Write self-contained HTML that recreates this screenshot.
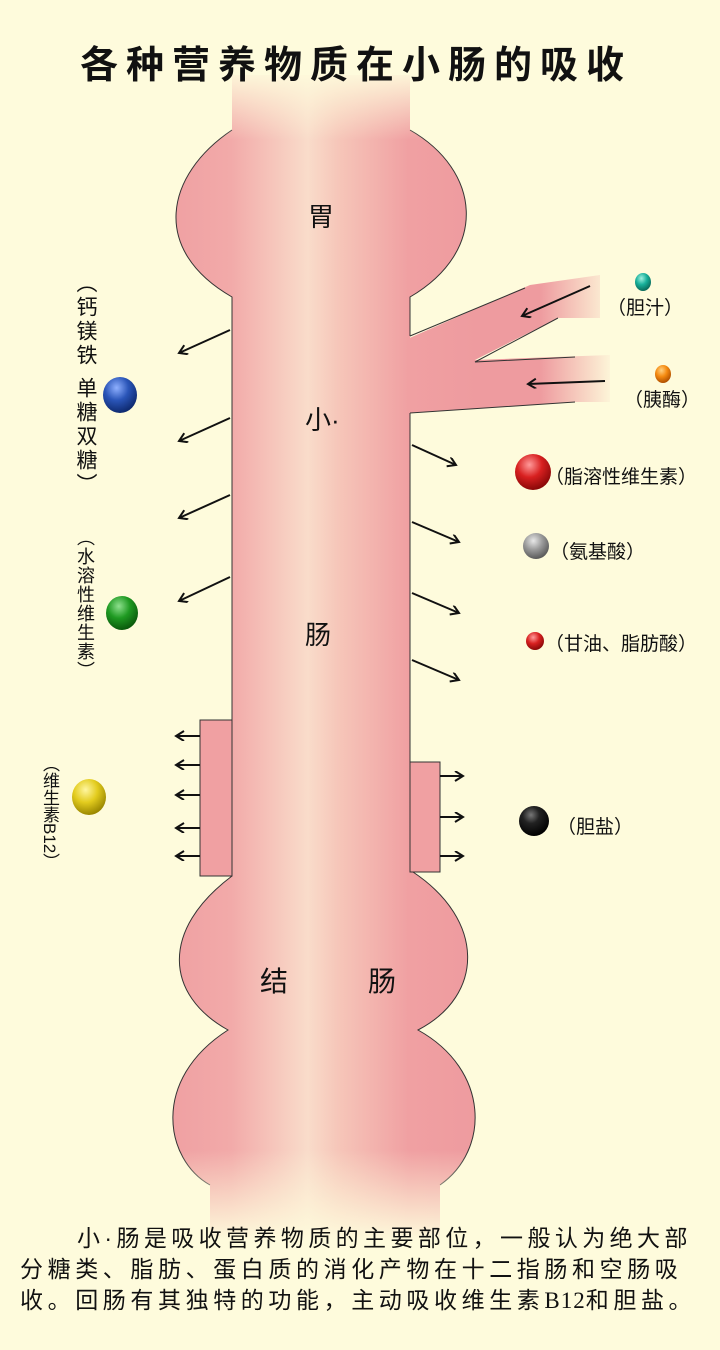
<!DOCTYPE html>
<html><head><meta charset="utf-8"><style>
body{margin:0;background:#fefbdc;}
#w{position:relative;width:720px;height:1350px;overflow:hidden;background:#fefbdc;font-family:"Liberation Sans","Noto Sans CJK SC",sans-serif;color:#111;}
.t{position:absolute;white-space:nowrap;}
.v{position:absolute;writing-mode:vertical-rl;white-space:nowrap;}
</style></head><body><div id="w">
<svg width="720" height="1350" style="position:absolute;left:0;top:0">
<defs>
<linearGradient id="g" gradientUnits="userSpaceOnUse" x1="170" y1="0" x2="476" y2="0">
<stop offset="0" stop-color="#efa0a2"/><stop offset="0.2" stop-color="#f2aaa9"/><stop offset="0.45" stop-color="#f9dcca"/><stop offset="0.55" stop-color="#f6c6b9"/><stop offset="0.78" stop-color="#f0a0a2"/><stop offset="1" stop-color="#ee9b9f"/>
</linearGradient>
<linearGradient id="ft" x1="0" x2="0" y1="0" y2="1"><stop offset="0" stop-color="#fefbdc"/><stop offset="1" stop-color="#fefbdc" stop-opacity="0"/></linearGradient>
<linearGradient id="fb" x1="0" x2="0" y1="0" y2="1"><stop offset="0" stop-color="#fefbdc" stop-opacity="0"/><stop offset="1" stop-color="#fefbdc"/></linearGradient>
<linearGradient id="fr" x1="0" x2="1" y1="0" y2="0"><stop offset="0" stop-color="#fefbdc" stop-opacity="0"/><stop offset="1" stop-color="#fefbdc"/></linearGradient>
<radialGradient id="bb" cx="0.4" cy="0.3" r="0.7"><stop offset="0" stop-color="#8fb0ff"/><stop offset="0.5" stop-color="#2a55b8"/><stop offset="1" stop-color="#0e2a70"/></radialGradient>
<radialGradient id="bg" cx="0.4" cy="0.3" r="0.7"><stop offset="0" stop-color="#8ee08e"/><stop offset="0.5" stop-color="#1f9a22"/><stop offset="1" stop-color="#0a5a0c"/></radialGradient>
<radialGradient id="by" cx="0.4" cy="0.3" r="0.7"><stop offset="0" stop-color="#fff6a0"/><stop offset="0.5" stop-color="#e3cc1e"/><stop offset="1" stop-color="#9a8700"/></radialGradient>
<radialGradient id="bt" cx="0.4" cy="0.3" r="0.7"><stop offset="0" stop-color="#a0f0e0"/><stop offset="0.5" stop-color="#18b09a"/><stop offset="1" stop-color="#0a6a5a"/></radialGradient>
<radialGradient id="bo" cx="0.4" cy="0.3" r="0.7"><stop offset="0" stop-color="#ffd080"/><stop offset="0.5" stop-color="#f58a10"/><stop offset="1" stop-color="#b05000"/></radialGradient>
<radialGradient id="br" cx="0.4" cy="0.3" r="0.7"><stop offset="0" stop-color="#ff9a9a"/><stop offset="0.5" stop-color="#d82020"/><stop offset="1" stop-color="#8a0808"/></radialGradient>
<radialGradient id="bgr" cx="0.4" cy="0.3" r="0.7"><stop offset="0" stop-color="#e8e8e8"/><stop offset="0.5" stop-color="#9a9a9a"/><stop offset="1" stop-color="#5a5a5a"/></radialGradient>
<radialGradient id="bk" cx="0.4" cy="0.3" r="0.7"><stop offset="0" stop-color="#777"/><stop offset="0.4" stop-color="#222"/><stop offset="1" stop-color="#000"/></radialGradient>
<marker id="a" markerWidth="12" markerHeight="12" refX="9" refY="5" orient="auto" markerUnits="userSpaceOnUse"><path d="M1,0 L9,5 L1,10" fill="none" stroke="#111" stroke-width="2"/></marker>
</defs>
<path d="M405,340 L530,285 L600,275 L600,318 L558,318 L475,360 L610,355 L610,402 L575,402 L405,413 Z" fill="url(#g)"/>
<rect x="540" y="270" width="75" height="140" fill="url(#fr)"/>
<path d="M410,336 L525,288 M558,318 L475,362 L575,357 M575,402 L410,413" fill="none" stroke="#333" stroke-width="1"/>
<path d="M232,75 L232,130 C165,175 150,250 232,297 L232,720 L200,720 L200,876 L232,876 C160,930 165,995 228,1030 C150,1080 165,1160 210,1185 L210,1240 L440,1240 L440,1185 C490,1150 490,1070 418,1030 C485,995 485,920 413,872 L440,872 L440,762 L410,762 L410,297 C490,250 480,170 410,130 L410,75 Z" fill="url(#g)"/>
<rect x="200" y="720" width="32" height="156" fill="#f0a0a2"/>
<rect x="410" y="762" width="30" height="110" fill="#f0a0a2"/>
<path d="M232,720 L200,720 L200,876 L232,876 L232,720 M410,762 L440,762 L440,872 L410,872 L410,762" fill="none" stroke="#333" stroke-width="1"/>
<path d="M232,130 C165,175 150,250 232,297 L232,720 M232,876 C160,930 165,995 228,1030 C150,1080 165,1160 210,1185 M410,130 C480,170 490,250 410,297 L410,336 M410,413 L410,762 M413,872 C485,920 485,995 418,1030 C490,1070 490,1150 440,1185" fill="none" stroke="#333" stroke-width="1"/>
<rect x="150" y="70" width="340" height="70" fill="url(#ft)"/>
<rect x="150" y="1150" width="340" height="92" fill="url(#fb)"/>
<g stroke="#111" stroke-width="2" fill="none" marker-end="url(#a)">
<line x1="230" y1="330" x2="179" y2="353"/><line x1="230" y1="418" x2="179" y2="441"/><line x1="230" y1="495" x2="179" y2="518"/><line x1="230" y1="577" x2="179" y2="601"/>
<line x1="590" y1="286" x2="522" y2="316"/><line x1="605" y1="381" x2="528" y2="384"/>
<line x1="200" y1="736" x2="176" y2="736"/><line x1="200" y1="765" x2="176" y2="765"/><line x1="200" y1="795" x2="176" y2="795"/><line x1="200" y1="828" x2="176" y2="828"/><line x1="200" y1="856" x2="176" y2="856"/>
<line x1="412" y1="445" x2="456" y2="465"/><line x1="412" y1="522" x2="459" y2="542"/><line x1="412" y1="593" x2="459" y2="613"/><line x1="412" y1="660" x2="459" y2="680"/>
<line x1="440" y1="776" x2="463" y2="776"/><line x1="440" y1="817" x2="463" y2="817"/><line x1="440" y1="856" x2="463" y2="856"/>
</g>
<ellipse cx="120" cy="395" rx="17" ry="18" fill="url(#bb)"/>
<ellipse cx="122" cy="613" rx="16" ry="17" fill="url(#bg)"/>
<ellipse cx="89" cy="797" rx="17" ry="18" fill="url(#by)"/>
<ellipse cx="643" cy="282" rx="8" ry="9" fill="url(#bt)"/>
<ellipse cx="663" cy="374" rx="8" ry="9" fill="url(#bo)"/>
<circle cx="533" cy="472" r="18" fill="url(#br)"/>
<circle cx="536" cy="546" r="13" fill="url(#bgr)"/>
<circle cx="535" cy="641" r="9" fill="url(#br)"/>
<circle cx="534" cy="821" r="15" fill="url(#bk)"/>
</svg>
<div class="t" style="left:80px;top:34px;font-size:38px;font-weight:bold;letter-spacing:8px;">各种营养物质在小肠的吸收</div>
<div class="t" style="left:308px;top:197px;font-size:26px;">胃</div>
<div class="t" style="left:305px;top:400px;font-size:26px;">小·</div>
<div class="t" style="left:305px;top:615px;font-size:26px;">肠</div>
<div class="t" style="left:260px;top:960px;font-size:28px;">结</div>
<div class="t" style="left:368px;top:960px;font-size:28px;">肠</div>
<div class="v" style="left:72px;top:272px;font-size:21px;line-height:26px;letter-spacing:3px;">（钙镁铁 单糖双糖）</div>
<div class="v" style="left:72px;top:528px;font-size:18px;line-height:26px;letter-spacing:1px;">（水溶性维生素）</div>
<div class="v" style="left:38px;top:755px;font-size:17px;line-height:22px;">（维生素B12）</div>
<div class="t" style="left:607px;top:293px;font-size:19px;">（胆汁）</div>
<div class="t" style="left:624px;top:385px;font-size:19px;">（胰酶）</div>
<div class="t" style="left:545px;top:462px;font-size:19px;">（脂溶性维生素）</div>
<div class="t" style="left:550px;top:537px;font-size:19px;">（氨基酸）</div>
<div class="t" style="left:545px;top:629px;font-size:19px;">（甘油、脂肪酸）</div>
<div class="t" style="left:557px;top:812px;font-size:19px;">（胆盐）</div>
<div class="t" style="left:77px;top:1219px;font-size:23px;letter-spacing:4.4px;">小·肠是吸收营养物质的主要部位，一般认为绝大部</div>
<div class="t" style="left:20px;top:1250px;font-size:23px;letter-spacing:4.6px;">分糖类、脂肪、蛋白质的消化产物在十二指肠和空肠吸</div>
<div class="t" style="left:20px;top:1281px;font-size:23px;letter-spacing:4.6px;">收。回肠有其独特的功能，主动吸收维生素<span style="font-family:'Liberation Serif',serif;letter-spacing:1px">B12</span>和胆盐。</div>
</div></body></html>
